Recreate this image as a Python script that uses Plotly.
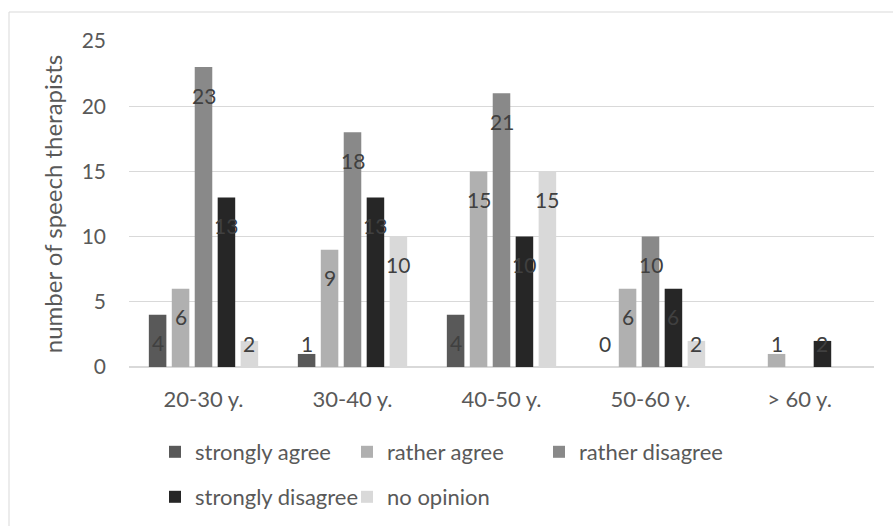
import plotly.graph_objects as go

categories = ["20-30 y.", "30-40 y.", "40-50 y.", "50-60 y.", "> 60 y."]
series_names = ["strongly agree", "rather agree", "rather disagree", "strongly disagree", "no opinion"]
strongly_agree = [4, 1, 4, 0, None]
rather_agree = [6, 9, 15, 6, 1]
rather_disagree = [23, 18, 21, 10, None]
strongly_disagree = [13, 13, 10, 6, 2]
no_opinion = [2, 10, 15, 2, None]
y_ticks = [0, 5, 10, 15, 20, 25]

series_values = [strongly_agree, rather_agree, rather_disagree, strongly_disagree, no_opinion]
colors = ["#595959", "#b0b0b0", "#898989", "#262626", "#d9d9d9"]

W, H = 893, 526
ML, MR, MT, MB = 129, 19, 41, 159
plot_w = W - ML - MR
plot_h = H - MT - MB
BARGAP = 0.23
BARGROUPGAP = 0.236
FONT = "Lato"
FS_TEXT = 22
FS_NUM = 21
FS_TITLE = 24

fig = go.Figure()
for i, (name, vals, col) in enumerate(zip(series_names, series_values, colors)):
    fig.add_trace(go.Bar(
        x=categories, y=vals, name=name, marker=dict(color=col, line=dict(width=0)),
        legend="legend" if i < 3 else "legend2",
    ))

# data labels (inside end, kept above the floor of the plot)
slot = plot_w / len(categories) * (1 - BARGAP) / len(series_names)
ymax = 25
px_per_unit = plot_h / ymax
offset_units = 28 / px_per_unit
floor_units = 24 / px_per_unit
for i, vals in enumerate(series_values):
    for c, v in zip(categories, vals):
        if v is None:
            continue
        fig.add_annotation(
            x=c, y=max(v - offset_units, floor_units), text=str(v), showarrow=False,
            xshift=(i - (len(series_names) - 1) / 2) * slot, yanchor="middle",
            font=dict(family=FONT, size=FS_NUM, color="#404040"),
        )

# chart-area border
fig.add_shape(type="rect", xref="paper", yref="paper",
              x0=(9 - ML) / plot_w, x1=1.2, y0=-1.5, y1=(plot_h + MT - 12) / plot_h,
              line=dict(color="#d9d9d9", width=1), fillcolor="rgba(0,0,0,0)", layer="below")

legend_common = dict(orientation="h", x=(155 - ML) / plot_w, xanchor="left", yanchor="middle",
                     entrywidth=147, entrywidthmode="pixels",
                     font=dict(size=FS_TEXT, color="#595959"), bgcolor="rgba(0,0,0,0)")

fig.update_layout(
    width=W, height=H,
    margin=dict(l=ML, r=MR, t=MT, b=MB, autoexpand=False),
    paper_bgcolor="white", plot_bgcolor="white",
    barmode="group", bargap=BARGAP, bargroupgap=BARGROUPGAP,
    font=dict(family=FONT, size=FS_TEXT, color="#595959"),
    xaxis=dict(showgrid=False, showline=True, linecolor="#d9d9d9", linewidth=1,
               ticks="", ticklabelstandoff=13, tickfont=dict(size=FS_TEXT, color="#595959")),
    yaxis=dict(range=[0, ymax], tickvals=y_ticks, showgrid=True, gridcolor="#d9d9d9", gridwidth=1,
               zeroline=True, zerolinecolor="#d9d9d9", showline=False, ticks="",
               ticklabelstandoff=22, tickfont=dict(size=FS_NUM, color="#595959"),
               title=dict(text="number of speech therapists", standoff=12,
                          font=dict(size=FS_TITLE, color="#595959"))),
    legend=dict(legend_common, y=(-452 + MT + plot_h) / plot_h),
    legend2=dict(legend_common, y=(-497 + MT + plot_h) / plot_h),
)

fig.write_html("out.html", config={"displayModeBar": False},
               post_script="document.body.style.margin='0px';")
